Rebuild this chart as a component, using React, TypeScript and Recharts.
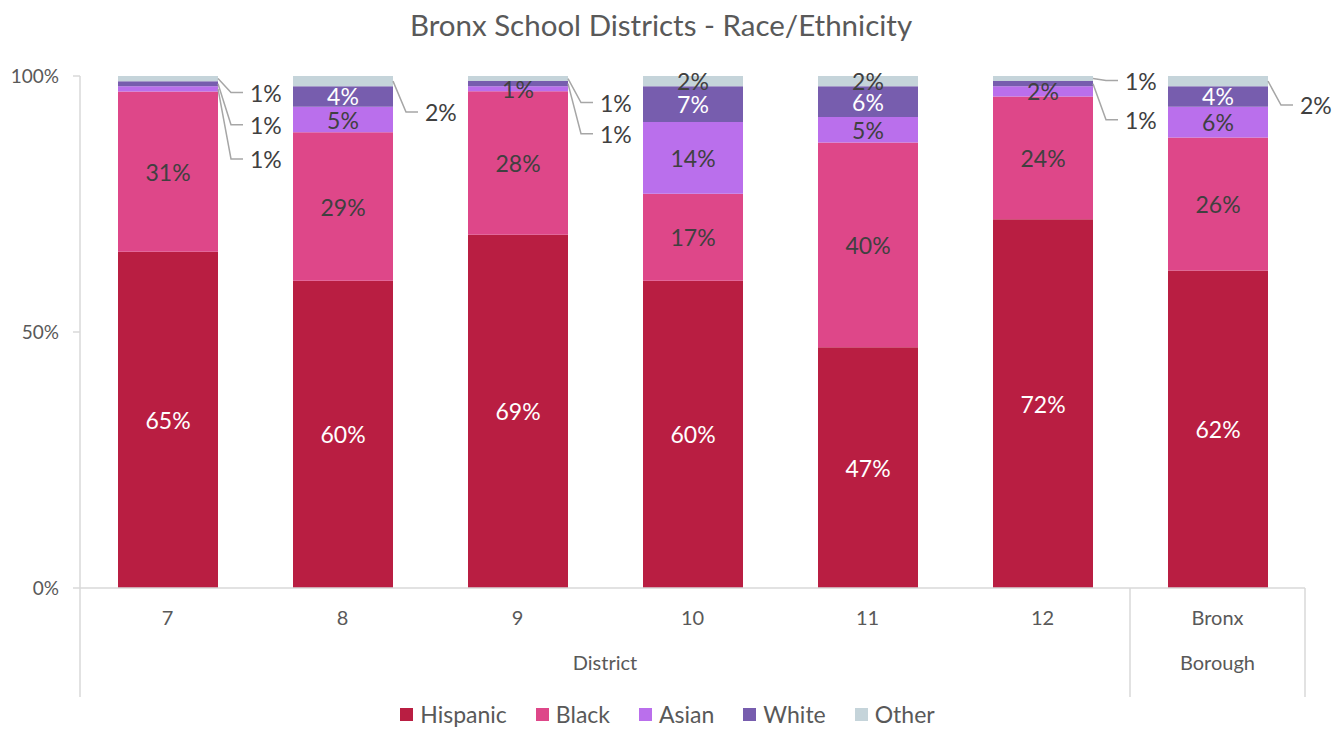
import React from "react";
import { BarChart, Bar, XAxis, YAxis, LabelList, Legend } from "recharts";

const categories = ["7", "8", "9", "10", "11", "12", "Bronx"];
const hispanic = [65, 60, 69, 60, 47, 72, 62];
const black = [31, 29, 28, 17, 40, 24, 26];
const asian = [1, 5, 1, 14, 5, 2, 6];
const white = [1, 4, 1, 7, 6, 1, 4];
const other = [1, 2, 1, 2, 2, 1, 2];
const yTicks = [0, 0.5, 1];

const W = 1337;
const H = 730;
const M = { top: 76, right: 32, left: 0, bottom: 0 };
const Y_W = 80;
const X_H = 110;
const LEGEND_H = 32;
const band = (W - M.left - M.right - Y_W) / categories.length;

const FONT = "Lato, 'Open Sans', sans-serif";
const GREY = "#595959";
const DARK = "#404040";
const LINE = "#d9d9d9";

const series = [
  { key: "hispanic", name: "Hispanic", values: hispanic, color: "#B91E42", text: "#ffffff" },
  { key: "black", name: "Black", values: black, color: "#DE4789", text: DARK },
  { key: "asian", name: "Asian", values: asian, color: "#BA6FEC", text: DARK },
  { key: "white", name: "White", values: white, color: "#775DAE", text: "#ffffff" },
  { key: "other", name: "Other", values: other, color: "#C5D4DA", text: DARK },
];

// small segments labelled outside the bar: vertical shift (px) of the label from the segment middle
const callouts: Record<string, Record<number, number>> = {
  other: { 0: 14, 1: 31, 2: 24, 5: 2, 6: 24 },
  white: { 0: 41, 2: 50, 5: 36 },
  asian: { 0: 70 },
};

const data = categories.map((cat, i) => ({
  cat,
  hispanic: hispanic[i],
  black: black[i],
  asian: asian[i],
  white: white[i],
  other: other[i],
}));

function makeLabel(s: (typeof series)[number]) {
  return (props: any) => {
    const x = Number(props.x);
    const y = Number(props.y);
    const w = Number(props.width);
    const h = Number(props.height);
    const idx = props.index;
    const v = s.values[idx];
    const cy = y + h / 2;
    const dy = callouts[s.key]?.[idx];
    if (dy !== undefined) {
      const ex = x + w;
      const ly = cy + dy;
      return (
        <g>
          <polyline
            points={`${ex},${cy} ${ex + 13},${ly} ${ex + 25},${ly}`}
            fill="none"
            stroke="#a6a6a6"
            strokeWidth={1.5}
          />
          <text x={ex + 32} y={ly} dominantBaseline="central" fill={DARK} fontSize={23} fontFamily={FONT}>
            {v}%
          </text>
        </g>
      );
    }
    return (
      <text
        x={x + w / 2}
        y={cy}
        textAnchor="middle"
        dominantBaseline="central"
        fill={s.text}
        fontSize={23}
        fontFamily={FONT}
      >
        {v}%
      </text>
    );
  };
}

const XTick = (props: any) => {
  const { x, y, index, payload } = props;
  const last = categories.length - 1;
  return (
    <g>
      {payload.value === "Bronx" ? (
        <>
          <text x={x} y={y + 29} textAnchor="middle" dominantBaseline="central" fill={GREY} fontSize={20} fontFamily={FONT}>
            Bronx
          </text>
          <text x={x} y={y + 74} textAnchor="middle" dominantBaseline="central" fill={GREY} fontSize={20} fontFamily={FONT}>
            Borough
          </text>
        </>
      ) : (
        <text x={x} y={y + 29} textAnchor="middle" dominantBaseline="central" fill={GREY} fontSize={20} fontFamily={FONT}>
          {payload.value}
        </text>
      )}
      {index === 2 && (
        <text x={x + band / 2} y={y + 74} textAnchor="middle" dominantBaseline="central" fill={GREY} fontSize={20} fontFamily={FONT}>
          District
        </text>
      )}
      {index === 0 && <line x1={x - band / 2} x2={x - band / 2} y1={y} y2={y + 109} stroke={LINE} strokeWidth={1.5} />}
      {(index === last - 1 || index === last) && (
        <line x1={x + band / 2} x2={x + band / 2} y1={y} y2={y + 109} stroke={LINE} strokeWidth={1.5} />
      )}
    </g>
  );
};

const renderLegend = () => (
  <div
    style={{
      display: "flex",
      justifyContent: "center",
      alignItems: "center",
      gap: 29,
      height: LEGEND_H,
      paddingLeft: 30,
      fontFamily: FONT,
      fontSize: 23,
      color: GREY,
    }}
  >
    {series.map((s) => (
      <div key={s.key} style={{ display: "flex", alignItems: "center" }}>
        <span style={{ width: 13, height: 13, background: s.color, display: "inline-block", marginRight: 7 }} />
        <span>{s.name}</span>
      </div>
    ))}
  </div>
);

export default function App() {
  return (
    <div style={{ position: "absolute", left: 0, top: 0, width: W, height: H, background: "#fff" }}>
      <div
        style={{
          position: "absolute",
          top: 7,
          left: 0,
          width: 1322,
          textAlign: "center",
          fontFamily: FONT,
          fontSize: 29.5,
          lineHeight: "36px",
          color: GREY,
        }}
      >
        Bronx School Districts - Race/Ethnicity
      </div>
      <BarChart width={W} height={H} data={data} margin={M} stackOffset="expand" barSize={100}>
        <XAxis
          dataKey="cat"
          height={X_H}
          tickSize={0}
          tickMargin={0}
          axisLine={{ stroke: LINE, strokeWidth: 1.5 }}
          tick={<XTick />}
          interval={0}
        />
        <YAxis
          width={Y_W}
          ticks={yTicks}
          domain={[0, 1]}
          tickFormatter={(v: number) => `${Math.round(v * 100)}%`}
          axisLine={{ stroke: LINE, strokeWidth: 1.5 }}
          tickLine={{ stroke: LINE, strokeWidth: 1.5 }}
          tickSize={7}
          tickMargin={14}
          tick={{ fill: GREY, fontSize: 19, fontFamily: FONT }}
        />
        <Legend verticalAlign="bottom" height={LEGEND_H} content={renderLegend} />
        {series.map((s) => (
          <Bar key={s.key} dataKey={s.key} name={s.name} stackId="a" fill={s.color} isAnimationActive={false}>
            <LabelList dataKey={s.key} content={makeLabel(s)} />
          </Bar>
        ))}
      </BarChart>
    </div>
  );
}
